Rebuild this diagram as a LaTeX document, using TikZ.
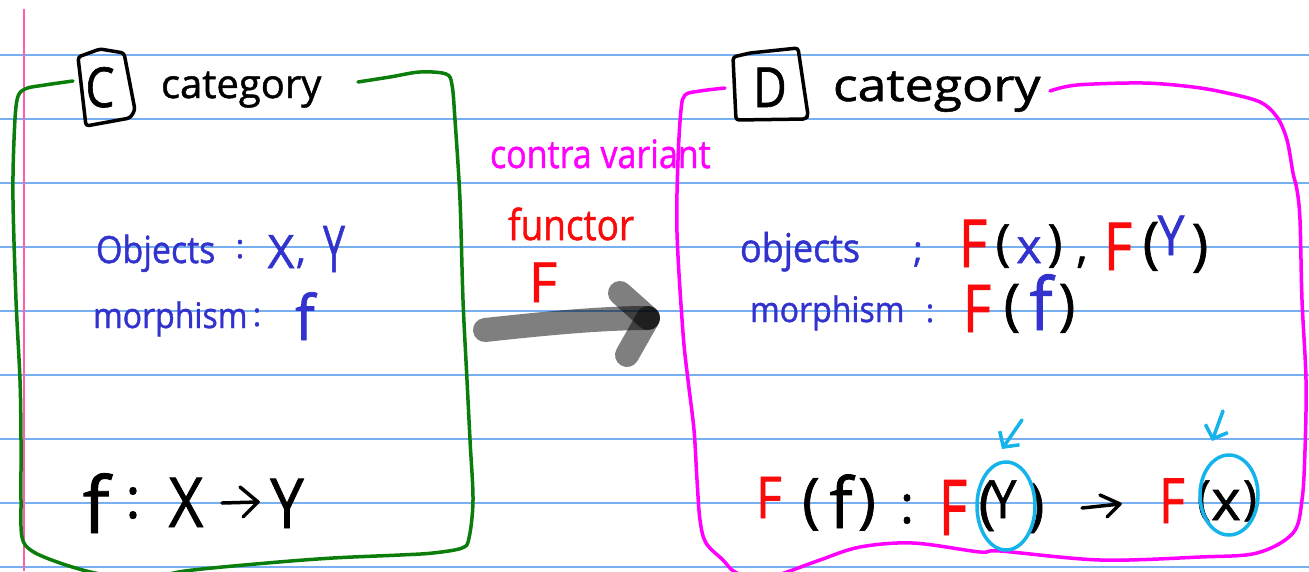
\documentclass[tikz,border=0pt]{standalone}
\usepackage{fontspec}
\usepackage{graphicx}
\setmainfont{Open Sans}[FakeBold=1.2]
\usetikzlibrary{arrows.meta}
\definecolor{rulec}{RGB}{120,175,240}
\definecolor{marginc}{RGB}{255,95,170}
\definecolor{pengreen}{RGB}{10,125,10}
\definecolor{penmag}{RGB}{255,0,255}
\definecolor{penblue}{RGB}{50,50,205}
\definecolor{penred}{RGB}{250,10,10}
\definecolor{pencyan}{RGB}{20,180,235}
\newcommand\fs[1]{\fontsize{#1}{#1}\selectfont}
\newcommand\sy[2]{\scalebox{1}[#1]{#2}}
\newcommand\sxy[3]{\scalebox{#1}[#2]{#3}}
\tikzset{
  t/.style={inner sep=0pt, outer sep=0pt, anchor=base},
  tw/.style={t, anchor=base west},
  ruleline/.style={draw=rulec, line width=1.5pt},
  gpen/.style={draw=pengreen, line width=3.5pt, line cap=round, line join=round},
  mpen/.style={draw=penmag, line width=3.5pt, line cap=round, line join=round},
  kpen/.style={draw=black, line width=3.5pt, line cap=round, line join=round},
  cpen/.style={draw=pencyan, line width=3.5pt, line cap=round, line join=round},
  bigarrow/.style={draw=black, draw opacity=0.5, line width=24pt, line cap=round}
}
\begin{document}
\begin{tikzpicture}[x=1pt,y=-1pt]
\useasboundingbox (0,0) rectangle (1309,571);
\clip (0,0) rectangle (1309,571);
\fill[white] (0,0) rectangle (1309,571);
% ruled paper
\foreach \k in {0,...,8} {\draw[ruleline] (0,55+64*\k) -- (1309,55+64*\k);}
\draw[draw=marginc, line width=2pt] (24,9) -- (24,571);

% green frame (category C)
\draw[gpen] plot[smooth, tension=0.55] coordinates {(73,81) (45,85) (25,89) (17,100) (14,140) (13,200) (16,300) (20,380) (21,440) (21,500) (22,537) (32,551) (60,563) (95,573) (140,580) (185,571) (267,563) (333,558) (400,555) (433,553) (462,548) (469,538) (473,500) (470,440) (467,380) (463,300) (460,200) (455,120) (452,85) (446,74) (420,72) (390,77) (358,82)};

% magenta frame (category D)
\draw[mpen] plot[smooth, tension=0.55] coordinates {(725,88) (700,91) (685,95) (681,110) (678,160) (677,233) (683,333) (688,380) (694,430) (697,480) (700,520) (706,543) (723,560) (735,572) (760,580) (787,572) (820,560) (860,547) (913,543) (980,552) (1000,551) (1100,560) (1200,557) (1257,553) (1293,533) (1302,500) (1305,450) (1306,380) (1302,300) (1300,220) (1297,190) (1293,173) (1287,140) (1277,117) (1260,102) (1227,93) (1193,87) (1143,83) (1077,85) (1050,91)};

% C box and D box
\draw[kpen, rounded corners=3pt] (78,57) -- (100,49) -- (124,53) -- (135,110) -- (130,118) -- (86,126) -- cycle;
\draw[kpen, rounded corners=3pt] (733,57) -- (750,53) -- (798,48) -- (808,115) -- (806,119) -- (736,120) -- cycle;

% headings
\node[t, font=\fs{46}] (cC) at (100,107) {\sy{1.2}{C}};
\node[tw, font=\fs{40}] (catL) at (161,98) {category};
\node[t, font=\fs{46}] (dD) at (770,107) {\sy{1.2}{D}};
\node[tw, font=\fs{45}] (catR) at (833,101) {\sxy{1.15}{1}{category}};

% left content
\node[tw, font=\fs{34}, text=penblue] (objL) at (96,263) {\sy{1.1}{Objects}};
\node[t, font=\fs{33}, text=penblue] (objLc) at (240,258) {:};
\node[t, font=\fs{46}, text=penblue] (objLX) at (281,268) {X};
\node[t, font=\fs{40}, text=penblue] (objLcm) at (301,263) {,};
\node[t, font=\fs{46}, text=penblue] (objLY) at (334,272) {\sxy{0.85}{1.4}{Y}};
\node[tw, font=\fs{32}, text=penblue] (morL) at (93,328) {\sy{1.1}{morphism}};
\node[t, font=\fs{32}, text=penblue] (morLc) at (257,326) {:};
\node[t, font=\fs{48}, text=penblue] (morLf) at (305,340) {\sxy{1.2}{1.3}{f}};

\node[t, font=\fs{60}] (bLf) at (96,533) {\sxy{1.3}{1.3}{f}};
\node[t, font=\fs{56}] (bLc) at (133,518) {:};
\node[t, font=\fs{60}] (bLX) at (186,527) {\sy{1.15}{X}};
\node[t, font=\fs{60}] (bLY) at (287,528) {\sy{1.15}{Y}};
\coordinate (la1) at (222,503);
\coordinate (la2) at (258,502);
\coordinate (la3) at (240,487);
\coordinate (la4) at (243,517);
\draw[kpen] (la1) -- (la2);
\draw[kpen] (la3) -- (la2) -- (la4);

% middle: functor
\node[tw, font=\fs{34}, text=penmag] (contra) at (490,168) {\sy{1.15}{contra variant}};
\node[tw, font=\fs{37}, text=penred] (functor) at (508,240) {\sy{1.15}{functor}};
\node[t, font=\fs{55}, text=penred] (Fmid) at (543,302) {F};
\coordinate (arS) at (485,330);
\coordinate (arE) at (648,318);
\coordinate (arH1) at (620,293);
\coordinate (arH2) at (627,355);
\draw[bigarrow] (arS) .. controls (540,324) and (600,318) .. (arE);
\draw[bigarrow] (arH1) -- (arE);
\draw[bigarrow] (arH2) -- (arE);

% right content: objects
\node[tw, font=\fs{36}, text=penblue] (objR) at (740,262) {\sy{1.1}{objects}};
\node[t, font=\fs{36}, text=penblue] (objRs) at (918,262) {;};
\node[t, font=\fs{55}, text=penred] (objRF1) at (973,267) {\sy{1.2}{F}};
\node[t, font=\fs{50}] (objRp1) at (1003,260) {(};
\node[t, font=\fs{48}, text=penblue] (objRx) at (1029,263) {x};
\node[t, font=\fs{50}] (objRp2) at (1055,260) {)};
\node[t, font=\fs{46}] (objRcm) at (1082,262) {,};
\node[t, font=\fs{55}, text=penred] (objRF2) at (1118,270) {\sy{1.2}{F}};
\node[t, font=\fs{56}] (objRp3) at (1151,262) {(};
\node[t, font=\fs{48}, text=penblue] (objRY) at (1171,255) {\sy{1.15}{Y}};
\node[t, font=\fs{56}] (objRp4) at (1200,264) {)};

% right content: morphism
\node[tw, font=\fs{32}, text=penblue] (morR) at (750,322) {\sy{1.1}{morphism}};
\node[t, font=\fs{32}, text=penblue] (morRc) at (930,322) {:};
\node[t, font=\fs{55}, text=penred] (morRF) at (977,332) {\sy{1.2}{F}};
\node[t, font=\fs{56}] (morRp1) at (1012,324) {(};
\node[t, font=\fs{56}, text=penblue] (morRf) at (1041,330) {\sxy{1.2}{1.3}{f}};
\node[t, font=\fs{56}] (morRp2) at (1067,324) {)};

% right content: bottom formula
\node[t, font=\fs{50}, text=penred] (bF1) at (769,518) {\sy{1.15}{F}};
\node[t, font=\fs{60}] (bP1) at (811,521) {(};
\node[t, font=\fs{56}] (bf) at (841,528) {\sxy{1.2}{1.25}{f}};
\node[t, font=\fs{60}] (bP2) at (867,521) {)};
\node[t, font=\fs{52}] (bC) at (907,523) {:};
\node[t, font=\fs{55}, text=penred] (bF2) at (953,535) {\sy{1.4}{F}};
\node[t, font=\fs{57}] (bP3) at (987,522) {(};
\node[t, font=\fs{48}] (bY) at (1003,518) {\sy{1.1}{Y}};
\node[t, font=\fs{57}] (bP4) at (1036,524) {)};
\node[t, font=\fs{50}, text=penred] (bF3) at (1172,523) {\sy{1.25}{F}};
\node[t, font=\fs{47}] (bP5) at (1204,514) {(};
\node[t, font=\fs{56}] (bx) at (1226,520) {x};
\node[t, font=\fs{47}] (bP6) at (1250,514) {)};
\coordinate (ra1) at (1082,508);
\coordinate (ra2) at (1120,504);
\coordinate (ra3) at (1100,495);
\coordinate (ra4) at (1107,517);
\draw[kpen] (ra1) -- (ra2);
\draw[kpen] (ra3) -- (ra2) -- (ra4);

% cyan highlights
\coordinate (ellY) at (1006,506);
\coordinate (ellX) at (1229,495);
\draw[cpen] (ellY) ellipse [x radius=29pt, y radius=44pt];
\draw[cpen] (ellX) ellipse [x radius=29pt, y radius=40pt];
\coordinate (yaT) at (1022,420);
\coordinate (yaH) at (1002,449);
\coordinate (xaT) at (1223,411);
\coordinate (xaH) at (1212,441);
\draw[cpen, -{Straight Barb[length=11pt, width=24pt]}] (yaT) -- (yaH);
\draw[cpen, -{Straight Barb[length=11pt, width=24pt]}] (xaT) -- (xaH);
\end{tikzpicture}
\end{document}
